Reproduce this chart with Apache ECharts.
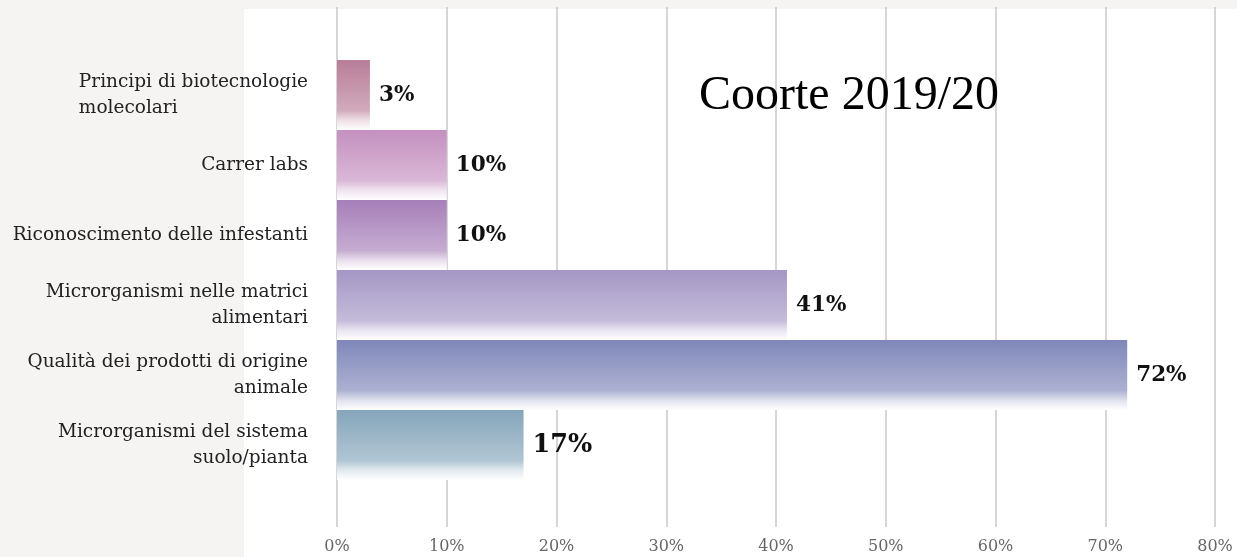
<!DOCTYPE html>
<html>
<head>
<meta charset="utf-8">
<script src="https://cdn.jsdelivr.net/npm/echarts@6/dist/echarts.min.js"></script>
<style>html,body{margin:0;padding:0;background:#f5f4f2;}#c{width:1237px;height:557px;}</style>
</head>
<body>
<div id="c"></div>
<script>
const categories = [
  'Principi di biotecnologie\nmolecolari',
  'Carrer labs',
  'Riconoscimento delle infestanti',
  'Microrganismi nelle matrici\nalimentari',
  'Qualità dei prodotti di origine\nanimale',
  'Microrganismi del sistema\nsuolo/pianta'
];
const values = [3, 10, 10, 41, 72, 17];
const barColors = ['#b87d98', '#c490c0', '#a67fb8', '#a497c5', '#7f87b8', '#86a5bb'];
const labelSizes = [21.5, 21.5, 21.5, 21.5, 21.5, 25.5];
const xTicks = [0, 10, 20, 30, 40, 50, 60, 70, 80];
const titleText = 'Coorte 2019/20';

function mix(hex, t) {
  const n = parseInt(hex.slice(1), 16);
  const r = (n >> 16) & 255, g = (n >> 8) & 255, b = n & 255;
  const f = c => Math.round(c + (255 - c) * t);
  return 'rgb(' + f(r) + ',' + f(g) + ',' + f(b) + ')';
}

const chart = echarts.init(document.getElementById('c'));
const serif = '"DejaVu Serif", serif';
chart.setOption({
  backgroundColor: '#f5f4f2',
  animation: false,
  graphic: [{
    type: 'rect', z: -10, silent: true,
    shape: { x: 244, y: 9, width: 993, height: 548 },
    style: { fill: '#ffffff' }
  }],
  title: {
    text: titleText, left: 694, top: 67,
    textStyle: { fontFamily: '"Liberation Serif", serif', fontSize: 48, fontWeight: 'normal', color: '#000' }
  },
  grid: [
    { left: 337, right: 22, top: 7, bottom: 30 },
    { left: 337, right: 22, top: 60, bottom: 77 }
  ],
  xAxis: [
    {
      gridIndex: 0, type: 'value', min: xTicks[0], max: xTicks[xTicks.length - 1], interval: 10,
      axisLine: { show: false }, axisTick: { show: false },
      splitLine: { show: true, lineStyle: { color: '#c9c9c9', width: 1.5 } },
      axisLabel: { formatter: '{value}%', color: '#666', fontFamily: serif, fontSize: 16, margin: 12 }
    },
    {
      gridIndex: 1, type: 'value', min: xTicks[0], max: xTicks[xTicks.length - 1],
      show: false, splitLine: { show: false }
    }
  ],
  yAxis: [
    { gridIndex: 0, type: 'value', show: false, min: 0, max: 1, splitLine: { show: false } },
    {
      gridIndex: 1, type: 'category', data: categories, inverse: true,
      axisLine: { show: false }, axisTick: { show: false },
      axisLabel: {
        margin: 29, color: '#222', fontFamily: serif, fontSize: 18.5, lineHeight: 26,
        formatter: function (v, i) {
          if (i === 0) return v.split('\n').map(s => '{l|' + s + '}').join('\n');
          return v;
        },
        rich: { l: { align: 'left', fontFamily: serif, fontSize: 18.5, lineHeight: 26, color: '#222' } }
      }
    }
  ],
  series: [{
    type: 'bar', xAxisIndex: 1, yAxisIndex: 1, barWidth: '100%',
    data: values.map((v, i) => ({
      value: v,
      itemStyle: {
        color: {
          type: 'linear', x: 0, y: 0, x2: 0, y2: 1,
          colorStops: [
            { offset: 0, color: barColors[i] },
            { offset: 0.72, color: mix(barColors[i], 0.35) },
            { offset: 0.86, color: mix(barColors[i], 0.75) },
            { offset: 1, color: '#ffffff' }
          ]
        }
      },
      label: { fontSize: labelSizes[i] }
    })),
    label: {
      show: true, position: 'right', distance: 9, formatter: '{c}%',
      fontFamily: serif, fontWeight: 'bold', color: '#111'
    }
  }]
});
</script>
</body>
</html>
